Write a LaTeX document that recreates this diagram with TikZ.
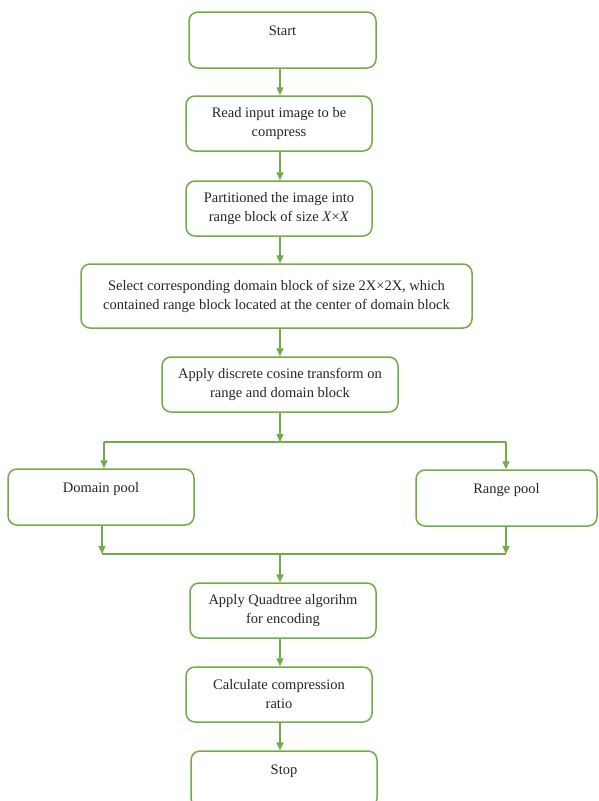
\documentclass[tikz,border=0pt]{standalone}
\usepackage{fontspec}
\setmainfont{Liberation Serif}
\usetikzlibrary{arrows.meta}
\definecolor{lgreen}{RGB}{112,173,71}
\begin{document}
\begin{tikzpicture}[x=1pt,y=-1pt,
  box/.style={draw=lgreen, line width=1.5pt, rounded corners=9pt, inner sep=0pt,
    align=center, fill=white, text=black!85, font=\fontsize{14.5}{19}\selectfont},
  arr/.style={draw=lgreen, line width=1.4pt, -{Triangle[length=8pt,width=7pt]}},
  ln/.style={draw=lgreen, line width=1.4pt}]
\useasboundingbox (0,0) rectangle (598,801);
\clip (0,0) rectangle (598,801);
\fill[white] (0,0) rectangle (598,801);

\node[box, minimum width=187pt, minimum height=56pt] (start) at (282.5,40) {Start\\\mbox{}};
\node[box, minimum width=186pt, minimum height=55pt] (read) at (279,123.5) {Read input image to be\\compress};
\node[box, minimum width=186pt, minimum height=55pt] (part) at (279,208.5) {Partitioned the image into\\range block of size \textit{X}×\textit{X}};
\node[box, minimum width=391pt, minimum height=64pt] (select) at (276.5,296) {Select corresponding domain block of size 2X×2X, which\\contained range block located at the center of domain block};
\node[box, minimum width=236pt, minimum height=55pt] (dct) at (280,384.5) {Apply discrete cosine transform on\\range and domain block};
\node[box, minimum width=186pt, minimum height=56pt] (domain) at (101,497) {Domain pool\\\mbox{}};
\node[box, minimum width=181pt, minimum height=56pt] (range) at (506.5,498) {Range pool\\\mbox{}};
\node[box, minimum width=186pt, minimum height=55pt] (quad) at (283,610.5) {Apply Quadtree algorihm\\for encoding};
\node[box, minimum width=186pt, minimum height=55pt] (calc) at (279,694.5) {Calculate compression\\ratio};
\node[box, minimum width=186pt, minimum height=56pt] (stop) at (284,779) {Stop\\\mbox{}};

\coordinate (ax) at (280,0);
\coordinate (br) at (280,442);
\coordinate (brl) at (104,442);
\coordinate (brr) at (506,442);
\coordinate (mg) at (280,554);
\coordinate (mgl) at (102,554);
\coordinate (mgr) at (506,554);

\draw[arr] (start.south -| ax) -- (read.north -| ax);
\draw[arr] (read.south -| ax) -- (part.north -| ax);
\draw[arr] (part.south -| ax) -- (select.north -| ax);
\draw[arr] (select.south -| ax) -- (dct.north -| ax);
\draw[arr] (dct.south -| ax) -- (br);
\draw[ln] (brl) -- (brr);
\draw[arr] (brl) -- (domain.north -| brl);
\draw[arr] (brr) -- (range.north -| brr);
\draw[arr] (domain.south -| mgl) -- (mgl);
\draw[arr] (range.south -| mgr) -- (mgr);
\draw[ln] (mgl) -- (mgr);
\draw[arr] (mg) -- (quad.north -| ax);
\draw[arr] (quad.south -| ax) -- (calc.north -| ax);
\draw[arr] (calc.south -| ax) -- (stop.north -| ax);
\end{tikzpicture}
\end{document}
